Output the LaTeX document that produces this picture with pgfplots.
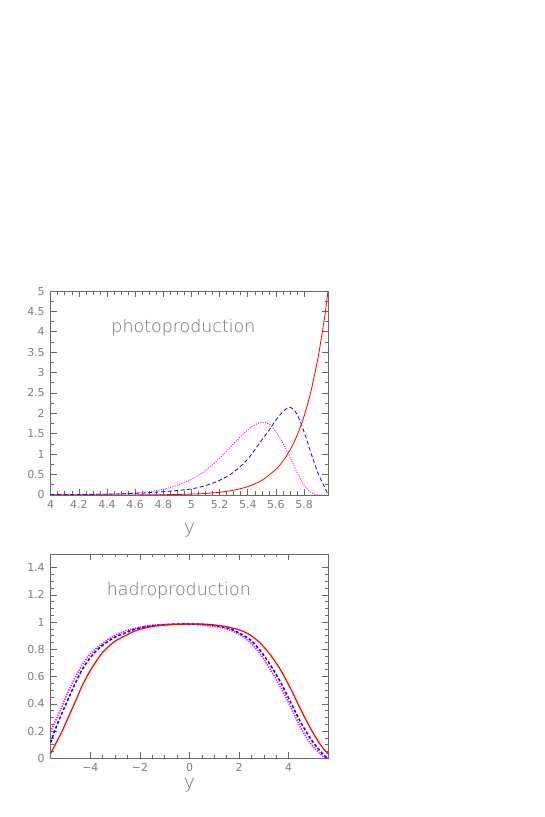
\documentclass[border=0pt]{standalone}
\usepackage{pgfplots}
\pgfplotsset{compat=1.18}
\usepackage{fontspec}
\setmainfont{DejaVu Sans ExtraLight}
\newfontfamily\tickfont{DejaVu Sans}
\definecolor{axgray}{RGB}{105,105,105}
\definecolor{txtgray}{RGB}{110,110,110}
\definecolor{tickgray}{RGB}{125,125,125}
\definecolor{pawred}{RGB}{255,0,0}
\definecolor{pawblue}{RGB}{0,0,255}
\definecolor{pawmag}{RGB}{255,0,255}

\pgfplotstableread{
x y
4.0 0.000
4.4 0.001
4.6 0.002
4.8 0.007
5.0 0.022
5.1 0.038
5.2 0.067
5.3 0.118
5.4 0.206
5.5 0.36
5.6 0.63
5.65 0.83
5.7 1.10
5.75 1.46
5.8 1.93
5.85 2.56
5.9 3.38
5.93 4.01
5.95 4.45
5.97 5.0
}\photored

\pgfplotstableread{
x y
4.0 0.01
4.2 0.012
4.4 0.02
4.6 0.04
4.8 0.08
4.9 0.11
5.0 0.15
5.1 0.23
5.2 0.36
5.3 0.56
5.4 0.88
5.5 1.35
5.55 1.58
5.6 1.84
5.65 2.04
5.7 2.15
5.75 1.98
5.8 1.55
5.85 1.02
5.9 0.53
5.95 0.16
5.97 0.02
}\photoblue

\pgfplotstableread{
x y
4.0 0.015
4.2 0.015
4.4 0.02
4.5 0.03
4.6 0.05
4.7 0.08
4.8 0.14
4.9 0.24
5.0 0.38
5.1 0.60
5.2 0.90
5.3 1.26
5.4 1.60
5.45 1.72
5.5 1.78
5.55 1.74
5.6 1.55
5.65 1.27
5.7 0.93
5.75 0.55
5.8 0.24
5.85 0.06
5.9 0.0
5.97 0.0
}\photomag

\pgfplotstableread{
x y
-5.6 0.037
-5.42 0.10
-5.15 0.195
-4.88 0.305
-4.61 0.415
-4.35 0.525
-4.08 0.62
-3.81 0.70
-3.54 0.77
-3.27 0.82
-3.0 0.86
-2.6 0.90
-2.19 0.935
-1.72 0.96
-1.2 0.975
-0.6 0.983
0.0 0.986
0.6 0.985
1.2 0.975
1.648 0.96
2.05 0.94
2.45 0.905
2.86 0.845
3.26 0.76
3.67 0.65
4.07 0.515
4.47 0.365
4.88 0.22
5.28 0.10
5.6 0.03
}\hadrored

\pgfplotstableread{
x y
-5.6 0.115
-5.42 0.21
-5.15 0.33
-4.88 0.44
-4.61 0.55
-4.35 0.645
-4.08 0.72
-3.81 0.78
-3.54 0.825
-3.27 0.86
-3.0 0.89
-2.6 0.92
-2.19 0.948
-1.72 0.967
-1.2 0.978
-0.6 0.985
0.0 0.986
0.6 0.982
1.2 0.97
1.648 0.95
2.05 0.915
2.45 0.87
2.86 0.79
3.26 0.685
3.67 0.56
4.07 0.415
4.47 0.27
4.88 0.145
5.28 0.05
5.5 0.01
5.6 0.0
}\hadroblue

\pgfplotstableread{
x y
-5.6 0.195
-5.42 0.27
-5.15 0.38
-4.88 0.495
-4.61 0.595
-4.35 0.68
-4.08 0.75
-3.81 0.80
-3.54 0.84
-3.27 0.875
-3.0 0.905
-2.6 0.935
-2.19 0.955
-1.72 0.973
-1.2 0.981
-0.6 0.985
0.0 0.985
0.6 0.978
1.2 0.962
1.648 0.94
2.05 0.905
2.45 0.85
2.86 0.765
3.26 0.65
3.67 0.525
4.07 0.38
4.47 0.23
4.88 0.11
5.28 0.03
5.45 0.005
5.6 0.0
}\hadromag

\pgfplotsset{
  pawstyle/.style={
    scale only axis,
    axis line style={axgray, line width=0.7bp},
    tick style={axgray, line width=0.6bp},
    tick align=inside,
    major tick length=6bp,
    minor tick length=3.5bp,
    ticklabel style={text=tickgray, font=\tickfont\fontsize{11}{13}\selectfont},
    yticklabel style={xshift=-2.5bp, text height=8bp, text depth=0pt},
    xticklabel style={yshift=-2bp, text height=8bp, text depth=0pt},
    /pgf/number format/assume math mode=true,
    xlabel style={text=txtgray, font=\fontsize{19}{21}\selectfont, anchor=base},
  }
}

\begin{document}
\begin{tikzpicture}
\useasboundingbox (0bp,0bp) rectangle (545bp,817bp);

\begin{axis}[pawstyle,
  at={(50.7bp,322bp)}, anchor=south west,
  width=277.3bp, height=204bp,
  xmin=4, xmax=5.97, ymin=0, ymax=5,
  xtick={4,4.2,4.4,4.6,4.8,5,5.2,5.4,5.6,5.8},
  ytick={0,0.5,1,1.5,2,2.5,3,3.5,4,4.5,5},
  minor x tick num=3, minor y tick num=1,
  xlabel={y},
  xlabel style={at={(axis description cs:0.5,-0.191)}},
]
\addplot[pawmag, line width=0.9bp, dash pattern=on 1bp off 1.4bp, smooth] table {\photomag};
\addplot[pawblue, line width=0.8bp, dash pattern=on 4bp off 2.5bp, smooth] table {\photoblue};
\addplot[pawred, line width=0.8bp, smooth] table {\photored};
\node[anchor=base, text=txtgray, font=\fontsize{17.5}{20}\selectfont] at (axis cs:4.943,3.99) {photoproduction};
\end{axis}

\begin{axis}[pawstyle,
  at={(50.7bp,58.7bp)}, anchor=south west,
  width=277.6bp, height=204.3bp,
  xmin=-5.6, xmax=5.6, ymin=0, ymax=1.5,
  xtick={-4,-2,0,2,4},
  xticklabels={−4,−2,0,2,4},
  ytick={0,0.2,0.4,0.6,0.8,1,1.2,1.4},
  minor x tick num=3, minor y tick num=3,
  xlabel={y},
  xlabel style={at={(axis description cs:0.5,-0.150)}},
]
\addplot[pawmag, line width=1.5bp, dash pattern=on 1.2bp off 1.3bp, smooth] table {\hadromag};
\addplot[pawblue, line width=1.5bp, dash pattern=on 3bp off 2bp, smooth] table {\hadroblue};
\addplot[pawred, line width=1.2bp, smooth] table {\hadrored};
\node[anchor=base, text=txtgray, font=\fontsize{17.5}{20}\selectfont] at (axis cs:-0.43,1.197) {hadroproduction};
\end{axis}
\end{tikzpicture}
\end{document}
